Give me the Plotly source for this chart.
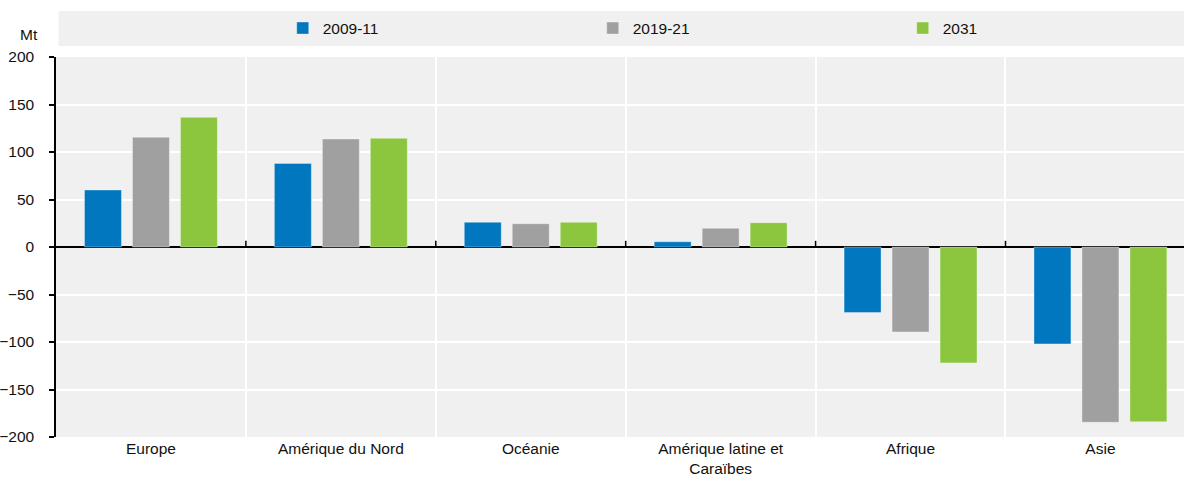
import plotly.graph_objects as go

regions = ["Europe", "Amérique du Nord", "Océanie", "Amérique latine et<br>Caraïbes", "Afrique", "Asie"]
series_names = ["2009-11", "2019-21", "2031"]
v_2009_11 = [60, 88, 26, 5.5, -69, -102]
v_2019_21 = [115.5, 113.7, 24.5, 19.7, -89.5, -184.5]
v_2031 = [136.5, 114.4, 26, 25.6, -122, -184]
colors = ["#0077bf", "#a0a0a0", "#8cc63f"]
y_ticks = [-200, -150, -100, -50, 0, 50, 100, 150, 200]

FONT = "Liberation Sans, Arial, sans-serif"
FS = 15.5
BG = "#f0f0f0"

fig = go.Figure()
for name, vals, col in zip(series_names, [v_2009_11, v_2019_21, v_2031], colors):
    fig.add_trace(go.Bar(
        x=regions, y=vals, name=name,
        marker=dict(color=col, line=dict(color="rgba(255,255,255,0.35)", width=1)),
    ))

# small upward ticks on the zero line at each category boundary
shapes = []
for k in range(1, len(regions)):
    shapes.append(dict(type="line", xref="x", yref="y", x0=k - 0.5, x1=k - 0.5,
                       y0=0, y1=6.5, line=dict(color="black", width=1.5)))
# grey band behind the legend
shapes.append(dict(type="rect", xref="paper", yref="paper", x0=0.0022, x1=1,
                   y0=1.029, y1=1.121, fillcolor=BG, line=dict(width=0), layer="below"))

fig.update_layout(
    width=1184, height=482,
    margin=dict(l=55.5, r=0, t=57, b=45, autoexpand=False),
    paper_bgcolor="white", plot_bgcolor=BG,
    barmode="group", bargap=0.242, bargroupgap=0.23,
    font=dict(family=FONT, size=FS, color="#111111"),
    showlegend=True,
    legend=dict(orientation="h", x=0.201, xanchor="left", y=1.075, yanchor="middle",
                bgcolor="rgba(0,0,0,0)", entrywidth=265, entrywidthmode="pixels",
                font=dict(family=FONT, size=FS, color="#111111"),
                itemclick=False, itemdoubleclick=False),
    shapes=shapes,
    annotations=[dict(text="Mt", xref="paper", yref="paper", x=-0.024, y=1.06,
                      xanchor="center", yanchor="middle", showarrow=False,
                      font=dict(family=FONT, size=FS, color="#111111"))],
    xaxis=dict(type="category", tickson="boundaries", showgrid=True,
               gridcolor="white", gridwidth=2, ticks="", showline=False,
               range=[-0.5, 5.44], zeroline=False,
               tickfont=dict(family=FONT, size=FS, color="#111111")),
    yaxis=dict(range=[-200, 200], tickvals=y_ticks, showgrid=True,
               gridcolor="white", gridwidth=2,
               zeroline=True, zerolinecolor="black", zerolinewidth=1.5,
               showline=True, linecolor="black", linewidth=1.5,
               ticks="outside", ticklen=5, tickwidth=1.5, tickcolor="black",
               ticklabelstandoff=12,
               tickfont=dict(family=FONT, size=FS, color="#111111")),
)

fig.write_html("out.html")
